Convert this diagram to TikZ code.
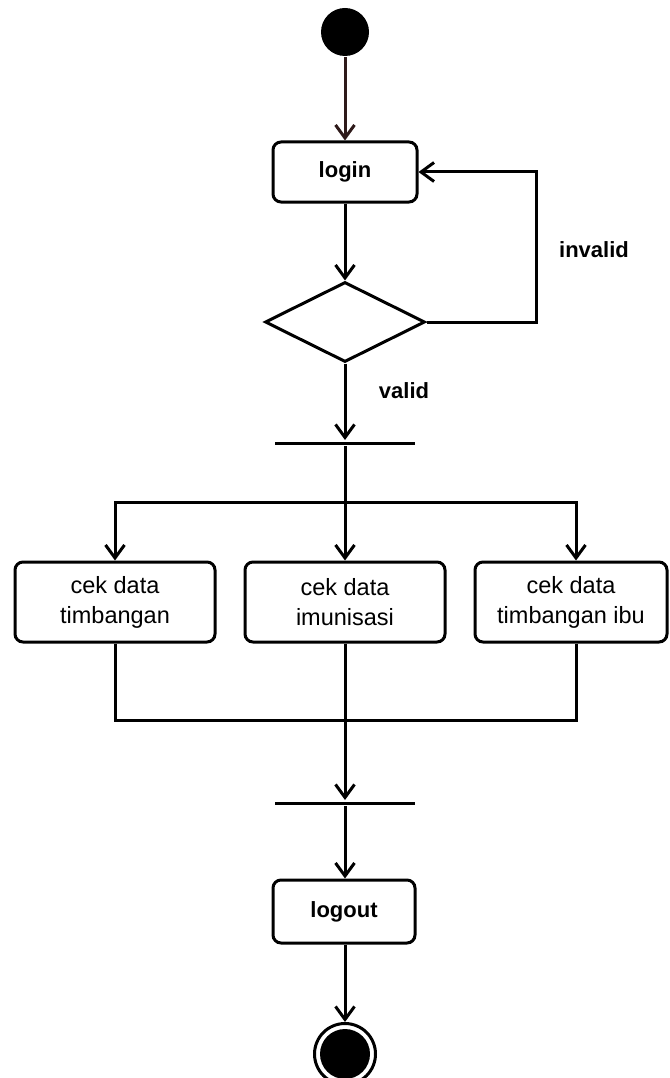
\documentclass[tikz,border=0pt]{standalone}
\usepackage{fontspec}
\setmainfont{Liberation Sans}
\usetikzlibrary{arrows.meta,shapes.geometric,calc}
\definecolor{startline}{HTML}{2E1A1A}
\begin{document}
\begin{tikzpicture}[x=1pt,y=-1pt,
  line width=3pt,
  arr/.style={-{Straight Barb[length=13pt,width=19pt]}},
  action/.style={draw,rectangle,rounded corners=8pt,inner sep=0pt,align=center,
    font=\fontsize{23.5}{30}\selectfont},
  boldaction/.style={action,font=\fontsize{22}{30}\selectfont\bfseries},
  decision/.style={draw,diamond,inner sep=0pt,minimum width=160pt,minimum height=80pt},
  bar/.style={fill=black,draw=none,rectangle,inner sep=0pt,minimum width=140pt,minimum height=3pt},
  lbl/.style={inner sep=0pt,font=\fontsize{22}{26}\selectfont\bfseries},
  initial/.style={circle,fill=black,draw=none,minimum size=48pt,inner sep=0pt},
]
\useasboundingbox (0,0) rectangle (669,1078);

% initial node and login
\node[initial] (start) at (345,32) {};
\node[boldaction,minimum width=144pt,minimum height=60pt] (login) at (345,172) {login};

% validation decision
\node[decision] (dec) at (345,322) {};
\node[lbl] (invalid) at (594,250) {invalid};
\node[lbl] (valid) at (404,391) {valid};

% fork bar
\node[bar] (fork) at (345,443) {};
\coordinate (split) at (345,502);

% parallel actions
\node[action,minimum width=200pt,minimum height=80pt] (tb) at (115,602) {cek data\\timbangan};
\node[action,minimum width=200pt,minimum height=80pt] (im) at (345,602) {cek data\\imunisasi};
\node[action,minimum width=192pt,minimum height=80pt] (ibu) at (571,602) {cek data\\timbangan ibu};
\coordinate (merge) at (345,720);

% join bar, logout, final node
\node[bar] (join) at (345,803) {};
\node[boldaction,minimum width=142pt,minimum height=63pt] (logout) at (344,911.5) {logout};
\node[circle,draw,fill=white,minimum size=61pt,inner sep=0pt] (end) at (345,1054) {};
\node[circle,fill=black,minimum size=50pt,inner sep=0pt] (endcore) at (end) {};

% control flow
\draw[arr,draw=startline] (start) -- (login);
\draw[arr] (login) -- (dec);
\draw[arr] (dec.east) -- ++(110,0) |- (login.east);
\draw[arr] (dec.south) -- (fork.north);
\draw (fork.south) -- (split);
\draw[arr] (split) -| (tb.north);
\draw[arr] (split) -- (im.north);
\draw[arr] (split) -| ([xshift=5pt]ibu.north);
\draw (tb.south) |- (merge);
\draw ([xshift=5pt]ibu.south) |- (merge);
\draw (im.south) -- (merge);
\draw[arr] (merge) -- (join.north);
\draw[arr] (join.south) -- (logout.north -| join.south);
\draw[arr] (logout.south -| end.north) -- (end.north);
\end{tikzpicture}
\end{document}
